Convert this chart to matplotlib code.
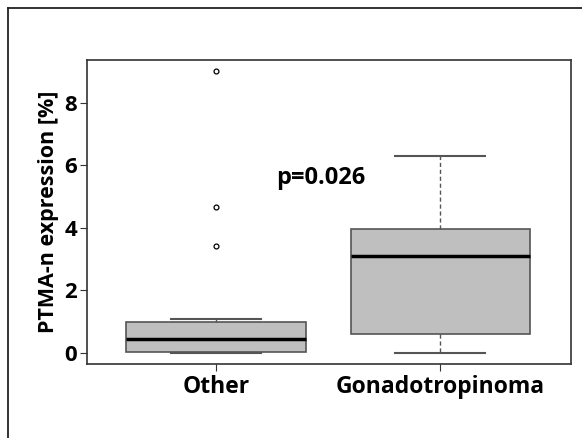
import numpy as np
import matplotlib.pyplot as plt
from matplotlib.lines import Line2D

plt.rcParams['font.family'] = ['Open Sans', 'DejaVu Sans']
plt.rcParams['font.weight'] = 'bold'

# box statistics (PTMA-n expression, %)
groups = ["Other", "Gonadotropinoma"]
q1 = [0.02, 0.6]
med = [0.43, 3.1]
q3 = [0.99, 3.95]
whislo = [0.0, 0.0]
whishi = [1.08, 6.3]
fliers = [[3.42, 4.68, 9.02], []]
p_text = "p=0.026"

stats = []
for i in range(len(groups)):
    stats.append(dict(label=groups[i], q1=q1[i], med=med[i], q3=q3[i],
                      whislo=whislo[i], whishi=whishi[i],
                      fliers=fliers[i]))

fig = plt.figure(figsize=(5.82, 4.38), dpi=100)
ax = fig.add_axes([0.1495, 0.169, 0.832, 0.694])

edge = "#555555"
ax.bxp(stats, positions=[1, 2], widths=0.8, patch_artist=True,
       boxprops=dict(facecolor="#bfbfbf", edgecolor=edge, linewidth=1.2),
       medianprops=dict(color="black", linewidth=2.5),
       whiskerprops=dict(color=edge, linestyle=(0, (3, 2)), linewidth=1),
       capprops=dict(color=edge, linewidth=1.5),
       flierprops=dict(marker="o", markersize=3.5, markerfacecolor="white",
                       markeredgecolor="black", markeredgewidth=0.9),
       capwidths=0.4)

ax.set_xlim(0.424, 2.585)
ax.set_ylim(-0.36, 9.38)
ax.set_yticks([0, 2, 4, 6, 8])
ax.set_xticks([1, 2], labels=groups)
ax.tick_params(axis="y", labelsize=16, length=5, color="#333333", pad=2)
ax.tick_params(axis="x", labelsize=16.5, length=5, color="#333333", pad=3)
for s in ax.spines.values():
    s.set_color("#333333")
    s.set_linewidth(1.2)
ax.set_ylabel("PTMA-n expression [%]", fontsize=15.5, fontweight="bold", labelpad=4)

ax.text(1.27, 5.6, p_text, fontsize=17, fontweight="bold", ha="left", va="center")

# outer frame (left and top edges)
fig.add_artist(Line2D([8 / 582, 8 / 582], [0, 1 - 8 / 438], color="#222222", linewidth=1.3))
fig.add_artist(Line2D([8 / 582, 1], [1 - 8 / 438, 1 - 8 / 438], color="#222222", linewidth=1.3))

fig.savefig("out.png", dpi=100)
